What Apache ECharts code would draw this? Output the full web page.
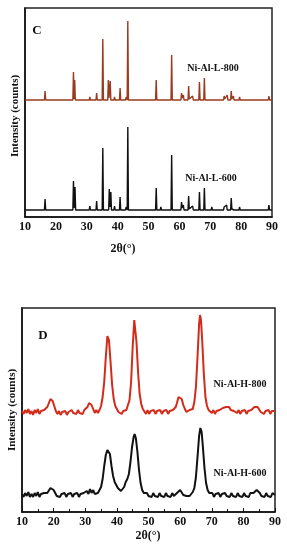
<!DOCTYPE html>
<html>
<head>
<meta charset="utf-8">
<script src="https://cdn.jsdelivr.net/npm/echarts@6/dist/echarts.min.js"></script>
<style>html,body{margin:0;padding:0;background:#fff}#c{width:287px;height:550px}</style>
</head>
<body>
<div id="c"></div>
<script>
var xTicks = [10, 20, 30, 40, 50, 60, 70, 80, 90];
var labelsC = ['Ni-Al-L-800', 'Ni-Al-L-600'];
var labelsD = ['Ni-Al-H-800', 'Ni-Al-H-600'];

// Panel C: [2theta, intensity (arb., offset)]
var traceL800 = [
[10,117],[16.3,117],[16.5,126],[16.7,117],
[25.5,117],[25.7,145],[25.9,118],[26.1,137],[26.3,117],
[30.8,117],[31,120],[31.2,117],
[33,117],[33.2,124],[33.4,117],
[35,117],[35.2,178],[35.4,117],
[36.8,117],[37,137],[37.2,119],[37.6,136],[37.8,117],
[38.8,117],[39,120],[39.2,117],
[40.6,117],[40.8,129],[41,117],
[42.5,117],[42.8,120],[43.1,117],[43.3,196],[43.5,117],
[46,117],[46.2,119],[46.4,117],[48.5,117],[48.7,119],[48.9,117],
[52.3,117],[52.5,137],[52.7,117],[53.8,117],[54,119],[54.2,117],
[57.3,117],[57.5,162],[57.7,117],
[60.5,117],[60.7,124],[60.9,119],[61.3,122],[61.5,117],
[62.8,117],[63,131],[63.2,118],[64.3,121],[64.5,117],
[66.3,117],[66.5,135],[66.7,117],
[67.9,117],[68.1,139],[68.3,117],
[70.3,117],[70.5,119],[70.7,117],
[74.3,117],[74.5,121],[74.7,118],[75.5,122],[75.7,117],
[76.6,117],[76.8,126],[77,118],[77.5,121],[77.7,117],
[79.3,117],[79.5,120],[79.7,117],[80.4,117],[80.6,119],[80.8,117],
[84.3,117],[84.5,119],[84.7,117],[86.3,117],[86.5,119],[86.7,117],
[88.8,117],[89,121],[89.2,117],[90,117]
];
var traceL600 = [
[10,7],[16.3,7],[16.5,18],[16.7,7],
[25.5,7],[25.7,36],[25.9,9],[26.2,30],[26.4,7],
[30.8,7],[31,11],[31.2,7],
[33,7],[33.2,16],[33.4,7],
[35,7],[35.2,69],[35.4,7],
[37.1,7],[37.3,28],[37.5,10],[37.8,25],[38,7],
[38.8,7],[39,11],[39.2,7],
[40.6,7],[40.8,20],[41,7],
[42.5,7],[42.8,10],[43.1,7],[43.3,90],[43.5,7],
[48.6,7],[48.8,9],[49,7],
[52.3,7],[52.5,29],[52.7,7],[53.8,7],[54,10],[54.2,7],
[57.3,7],[57.5,62],[57.7,7],
[60.5,7],[60.7,15],[60.9,9],[61.3,12],[61.5,7],
[62.8,7],[63,21],[63.2,8],[64.3,11],[64.5,7],
[66.3,7],[66.5,25],[66.7,7],
[67.9,7],[68.1,29],[68.3,7],
[70.3,7],[70.5,10],[70.7,7],
[74.3,7],[74.5,10],[74.7,8],[75.3,12],[75.5,7],
[76.6,7],[76.8,19],[77,8],[77.5,10],[77.7,7],
[79.3,7],[79.5,10],[79.7,7],[80.4,7],[80.6,9],[80.8,7],
[84.3,7],[84.5,9],[84.7,7],[86.3,7],[86.5,9],[86.7,7],
[88.8,7],[89,12],[89.2,7],[90,7]
];

// Panel D
var traceH800 = [
[10,101],[10.5,98],[11,102],[11.5,99],[12,103],[12.5,98],[13,101],[13.5,97],[14,102],[14.5,99],
[15,103],[15.5,98],[16,101],[16.5,99],[17,102],[17.5,103],[18,105],[18.5,109],[19,113],[19.3,114],
[19.7,111],[20.2,106],[20.7,101],[21.2,98],[21.7,101],[22.2,97],[22.7,100],[23.2,98],[23.7,101],[24.2,97],
[24.7,100],[25.2,98],[25.7,102],[26.2,99],[26.7,101],[27.2,98],[27.7,102],[28.2,99],[28.7,101],[29.2,98],
[29.7,102],[30.2,103],[30.7,105],[31.2,109],[31.6,110],[32,107],[32.5,103],[33,99],[33.5,102],[34,99],
[34.5,102],[35,106],[35.5,115],[36,130],[36.5,155],[37,176],[37.2,178],[37.5,172],[38,150],[38.5,127],
[39,113],[39.5,106],[40,103],[40.5,100],[41,102],[41.5,98],[42,101],[42.5,99],[43,102],[43.5,104],
[44,112],[44.5,130],[45,165],[45.5,192],[45.8,190],[46.2,170],[46.7,140],[47.2,118],[47.7,108],[48.2,103],
[48.7,101],[49.2,98],[49.7,102],[50.2,98],[50.7,101],[51.2,99],[51.7,102],[52.2,98],[52.7,101],[53.2,99],
[53.7,102],[54.2,98],[54.7,101],[55.2,99],[55.7,102],[56.2,98],[56.7,101],[57.2,99],[57.7,102],[58.2,102],
[58.6,105],[59,109],[59.5,115],[60,117],[60.5,113],[61,107],[61.5,103],[62,100],[62.5,99],[63,102],
[63.5,101],[64,103],[64.5,110],[65,125],[65.5,155],[66,188],[66.3,197],[66.6,192],[67,170],[67.5,138],
[68,115],[68.5,106],[69,102],[69.5,101],[70,99],[70.5,102],[71,98],[71.5,101],[72,99],[72.5,102],
[73,101],[73.5,104],[74,102],[74.5,105],[75,103],[75.5,105],[76,102],[76.5,104],[77,101],[77.5,102],
[78,99],[78.5,102],[79,98],[79.5,101],[80,99],[80.5,102],[81,98],[81.5,101],[82,99],[82.5,102],
[83,103],[83.5,105],[84,107],[84.5,105],[85,103],[85.5,100],[86,102],[86.5,98],[87,101],[87.5,99],
[88,102],[88.5,98],[89,101],[89.5,99],[90,101]
];
var traceH600 = [
[10,18],[10.5,15],[11,19],[11.5,16],[12,20],[12.5,15],[13,18],[13.5,15],[14,19],[14.5,16],
[15,20],[15.5,15],[16,18],[16.5,16],[17,19],[17.5,17],[18,19],[18.5,21],[19,24],[19.5,25],
[20,22],[20.5,19],[21,16],[21.5,18],[22,15],[22.5,18],[23,16],[23.5,19],[24,15],[24.5,18],
[25,16],[25.5,19],[26,15],[26.5,18],[27,16],[27.5,19],[28,15],[28.5,18],[29,16],[29.5,19],
[30,17],[30.5,21],[31,18],[31.5,23],[32,19],[32.5,22],[33,18],[33.5,19],[34,19],[34.5,21],
[35,25],[35.5,33],[36,46],[36.5,57],[37,62],[37.3,63],[37.8,58],[38.3,46],[38.8,36],[39.3,30],
[39.8,27],[40.3,24],[40.8,22],[41.3,21],[41.8,22],[42.3,25],[42.8,30],[43.3,33],[43.8,38],[44.3,50],
[44.8,65],[45.3,75],[45.6,78],[46,74],[46.5,60],[47,42],[47.5,29],[48,22],[48.5,19],[49,17],
[49.5,19],[50,16],[50.5,18],[51,15],[51.5,19],[52,16],[52.5,18],[53,15],[53.5,19],[54,16],
[54.5,18],[55,15],[55.5,19],[56,16],[56.5,18],[57,15],[57.5,19],[58,16],[58.5,18],[59,19],
[59.5,21],[60,22],[60.5,20],[61,17],[61.5,19],[62,16],[62.5,18],[63,16],[63.5,18],[64,20],
[64.5,24],[65,35],[65.5,55],[66,76],[66.4,84],[66.8,80],[67.2,65],[67.7,44],[68.2,29],[68.7,22],
[69.2,19],[69.7,17],[70.2,19],[70.7,15],[71.2,18],[71.7,16],[72.2,19],[72.7,15],[73.2,18],[73.7,16],
[74.2,19],[74.7,16],[75.2,18],[75.7,15],[76.2,19],[76.7,16],[77.2,18],[77.7,15],[78.2,19],[78.7,16],
[79.2,18],[79.7,15],[80.2,19],[80.7,16],[81.2,18],[81.7,15],[82.2,19],[82.7,17],[83.2,19],[83.7,21],
[84.2,22],[84.7,21],[85.2,19],[85.7,16],[86.2,18],[86.7,15],[87.2,19],[87.7,16],[88.2,18],[88.7,15],
[89.2,19],[90,17]
];

var FONT = 'Liberation Serif';
var chart = echarts.init(document.getElementById('c'), null, {renderer: 'canvas'});

function xAx(gi, ticks) {
  return {
    type: 'value', gridIndex: gi, min: 10, max: 90, interval: 10,
    axisLine: {show: true, lineStyle: {color: '#111', width: 1.5}},
    axisTick: {show: ticks, inside: true, length: 4, lineStyle: {color: '#111'}},
    minorTick: {show: ticks, splitNumber: 2, length: 3, lineStyle: {color: '#111'}},
    splitLine: {show: false},
    axisLabel: {color: '#111', fontFamily: FONT, fontWeight: 'bold', fontSize: 12, margin: 4,
      formatter: function (v) { return xTicks.indexOf(v) >= 0 ? String(v) : ''; }}
  };
}
function yAx(gi, max) {
  return {
    type: 'value', gridIndex: gi, min: 0, max: max,
    axisLine: {show: true, lineStyle: {color: '#111', width: 1.5}},
    axisTick: {show: false}, axisLabel: {show: false}, splitLine: {show: false}
  };
}
function txt(x, y, t, size, rot) {
  return {type: 'text', x: x, y: y, rotation: rot || 0,
    style: {text: t, fill: '#111', font: 'bold ' + size + 'px "' + FONT + '"', align: 'center', verticalAlign: 'middle'}};
}

chart.setOption({
  animation: false,
  backgroundColor: '#fff',
  grid: [
    {left: 25, right: 15, top: 8, height: 209, show: true, borderColor: '#222', borderWidth: 1.5},
    {left: 22, right: 12, top: 308, height: 204, show: true, borderColor: '#222', borderWidth: 1.5}
  ],
  xAxis: [xAx(0, false), xAx(1, true)],
  yAxis: [yAx(0, 209), yAx(1, 204)],
  series: [
    {type: 'line', xAxisIndex: 0, yAxisIndex: 0, data: traceL800, showSymbol: false, lineStyle: {color: '#9a3a1e', width: 1.4}},
    {type: 'line', xAxisIndex: 0, yAxisIndex: 0, data: traceL600, showSymbol: false, lineStyle: {color: '#111', width: 1.4}},
    {type: 'line', xAxisIndex: 1, yAxisIndex: 1, data: traceH800, showSymbol: false, lineStyle: {color: '#d42a1a', width: 2}},
    {type: 'line', xAxisIndex: 1, yAxisIndex: 1, data: traceH600, showSymbol: false, lineStyle: {color: '#111', width: 2}}
  ],
  graphic: [
    txt(37, 31, 'C', 13),
    txt(213, 68, labelsC[0], 10),
    txt(211, 178, labelsC[1], 10),
    txt(15, 116, 'Intensity (counts)', 11, Math.PI / 2),
    txt(123, 249, '2θ(°)', 12),
    txt(43, 336, 'D', 13),
    txt(240, 384, labelsD[0], 10),
    txt(240, 473, labelsD[1], 10),
    txt(12, 410, 'Intensity (counts)', 11, Math.PI / 2),
    txt(148, 536, '2θ(°)', 12)
  ]
});
</script>
</body>
</html>
